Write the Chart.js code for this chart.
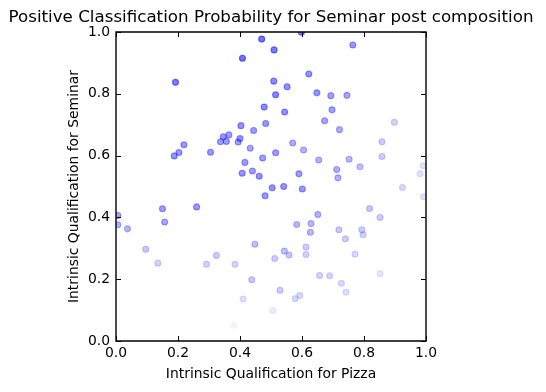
<!DOCTYPE html>
<html>
<head>
<meta charset="utf-8">
<script src="https://cdn.jsdelivr.net/npm/chart.js@4.4.1/dist/chart.umd.min.js"></script>
<style>
  body { margin: 0; background: #fff; }
  canvas { display: block; }
</style>
</head>
<body>
<canvas id="myChart" width="546" height="392"></canvas>
<script>
// values
const pizza = [0.47, 0.598, 0.51, 0.408, 0.764, 0.192, 0.622, 0.509, 0.552, 0.515,
  0.648, 0.693, 0.745, 0.478, 0.544, 0.697, 0.483, 0.673, 0.721, 0.898,
  0.403, 0.444, 0.364, 0.346, 0.337, 0.356, 0.400, 0.394, 0.219, 0.203,
  0.188, 0.305, 0.433, 0.473, 0.416, 0.44, 0.407, 0.462, 0.570, 0.605,
  0.858, 0.858, 0.515, 0.654, 0.752, 0.787, 0.712, 0.716, 0.590, 0.991,
  0.981, 0.924, 0.992, 0.504, 0.541, 0.601, 0.481, 0.006, 0.006, 0.037,
  0.150, 0.157, 0.260, 0.096, 0.135, 0.292, 0.324, 0.384, 0.448, 0.438,
  0.410, 0.379, 0.818, 0.852, 0.651, 0.583, 0.629, 0.627, 0.719, 0.793,
  0.797, 0.740, 0.771, 0.613, 0.613, 0.543, 0.558, 0.512, 0.657, 0.689,
  0.852, 0.727, 0.742, 0.529, 0.578, 0.593, 0.506];
const seminar = [0.977, 0.999, 0.942, 0.915, 0.958, 0.837, 0.864, 0.841, 0.823, 0.797,
  0.803, 0.794, 0.795, 0.757, 0.741, 0.748, 0.704, 0.713, 0.684, 0.708,
  0.697, 0.681, 0.667, 0.661, 0.645, 0.646, 0.655, 0.644, 0.635, 0.610,
  0.599, 0.611, 0.624, 0.592, 0.578, 0.550, 0.543, 0.533, 0.641, 0.618,
  0.645, 0.597, 0.609, 0.586, 0.588, 0.564, 0.555, 0.528, 0.541, 0.567,
  0.541, 0.497, 0.467, 0.496, 0.500, 0.492, 0.470, 0.406, 0.376, 0.363,
  0.428, 0.385, 0.434, 0.297, 0.252, 0.248, 0.277, 0.248, 0.313, 0.198,
  0.136, 0.051, 0.429, 0.400, 0.409, 0.377, 0.380, 0.352, 0.360, 0.360,
  0.344, 0.331, 0.281, 0.304, 0.280, 0.291, 0.278, 0.267, 0.212, 0.211,
  0.218, 0.187, 0.158, 0.164, 0.137, 0.147, 0.099];
// positive classification probability, shown as the point's opacity
const prob = [0.55, 0.5, 0.52, 0.55, 0.4, 0.5, 0.42, 0.45, 0.43, 0.47,
  0.4, 0.37, 0.35, 0.45, 0.43, 0.37, 0.4, 0.35, 0.32, 0.18,
  0.42, 0.38, 0.38, 0.4, 0.38, 0.38, 0.4, 0.38, 0.4, 0.4,
  0.42, 0.4, 0.35, 0.38, 0.38, 0.38, 0.42, 0.42, 0.33, 0.3,
  0.2, 0.2, 0.38, 0.3, 0.28, 0.25, 0.32, 0.3, 0.38, 0.12,
  0.12, 0.15, 0.12, 0.42, 0.42, 0.4, 0.4, 0.35, 0.3, 0.28,
  0.38, 0.35, 0.4, 0.22, 0.18, 0.18, 0.2, 0.17, 0.25, 0.22,
  0.13, 0.04, 0.22, 0.2, 0.3, 0.28, 0.28, 0.28, 0.22, 0.2,
  0.18, 0.2, 0.15, 0.2, 0.18, 0.25, 0.22, 0.2, 0.18, 0.17,
  0.1, 0.15, 0.13, 0.2, 0.15, 0.15, 0.08];
const tickValues = [0, 0.2, 0.4, 0.6, 0.8, 1.0];

const titleText = "Positive Classification Probability for Seminar post composition";
const font = "DejaVu Sans";

const points = pizza.map((x, i) => ({ x: x, y: seminar[i] }));
const colors = prob.map(p => "rgba(0, 0, 255, " + p + ")");

// frame, inward ticks on all four sides, and the title over the axes
const framePlugin = {
    id: "frame",
    afterDraw(chart) {
        const c = chart.ctx;
        const a = chart.chartArea;
        const xs = chart.scales.x;
        const ys = chart.scales.y;
        c.save();
        c.strokeStyle = "#000";
        c.lineWidth = 1;
        c.beginPath();
        tickValues.forEach(v => {
            const px = Math.round(xs.getPixelForValue(v)) + 0.5;
            c.moveTo(px, a.bottom); c.lineTo(px, a.bottom - 5);
            c.moveTo(px, a.top); c.lineTo(px, a.top + 5);
            const py = Math.round(ys.getPixelForValue(v)) + 0.5;
            c.moveTo(a.left, py); c.lineTo(a.left + 5, py);
            c.moveTo(a.right, py); c.lineTo(a.right - 5, py);
        });
        c.stroke();

        c.lineWidth = 1.4;
        c.beginPath();
        c.rect(a.left, a.top, a.right - a.left, a.bottom - a.top);
        c.stroke();

        c.fillStyle = "#000";
        c.font = "16.7px '" + font + "'";
        c.textAlign = "center";
        c.textBaseline = "middle";
        c.fillText(titleText, (a.left + a.right) / 2, 18);
        c.restore();
    }
};

const ctx = document.getElementById("myChart").getContext("2d");
const myChart = new Chart(ctx, {
    type: "scatter",
    data: {
        datasets: [{
            data: points,
            backgroundColor: colors,
            borderColor: colors,
            borderWidth: 1.1,
            pointRadius: 3,
            pointHoverRadius: 3,
            clip: 0
        }]
    },
    options: {
        responsive: false,
        animation: false,
        layout: { padding: { top: 32, right: 120, bottom: 0, left: 0 } },
        plugins: {
            legend: { display: false },
            tooltip: { enabled: false }
        },
        scales: {
            x: {
                type: "linear",
                min: 0,
                max: 1,
                grid: { display: false, drawTicks: false },
                border: { display: false },
                afterBuildTicks: s => { s.ticks = tickValues.map(v => ({ value: v })); },
                afterFit: s => { s.height = 51; },
                ticks: {
                    callback: v => v.toFixed(1),
                    color: "#000",
                    padding: 4,
                    maxRotation: 0,
                    font: { family: font, size: 13.9 }
                },
                title: {
                    display: true,
                    text: "Intrinsic Qualification for Pizza",
                    color: "#000",
                    font: { family: font, size: 13.9 },
                    padding: { top: 0, bottom: 9 }
                }
            },
            y: {
                type: "linear",
                min: 0,
                max: 1,
                grid: { display: false, drawTicks: false },
                border: { display: false },
                afterBuildTicks: s => { s.ticks = tickValues.map(v => ({ value: v })); },
                afterFit: s => { s.width = 116; },
                ticks: {
                    callback: v => v.toFixed(1),
                    color: "#000",
                    padding: 6,
                    font: { family: font, size: 13.9 }
                },
                title: {
                    display: true,
                    text: "Intrinsic Qualification for Seminar",
                    color: "#000",
                    font: { family: font, size: 13.9 },
                    padding: { top: 66, bottom: 0 }
                }
            }
        }
    },
    plugins: [framePlugin]
});
</script>
</body>
</html>
